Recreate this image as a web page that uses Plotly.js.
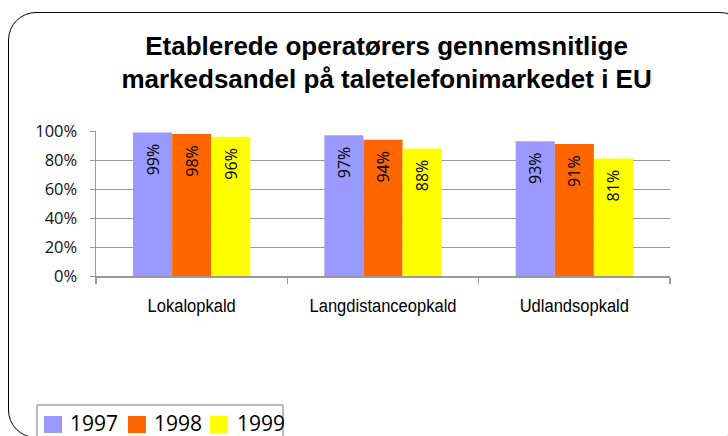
<!DOCTYPE html>
<html>
<head>
<meta charset="utf-8">
<script src="https://cdn.plot.ly/plotly-3.0.1.min.js"></script>
<style>
  html, body { margin: 0; padding: 0; background: #fff; overflow: hidden; }
  #wrap { position: relative; width: 728px; height: 436px; overflow: hidden; }
  #frame { position: absolute; left: 8px; top: 12px; width: 740px; height: 426px;
           border: 1.5px solid #000; border-radius: 28px; box-sizing: border-box; pointer-events: none; }
  #chart { position: absolute; left: 0; top: 0; width: 728px; height: 436px; }
</style>
</head>
<body>
<div id="wrap">
  <div id="chart"></div>
  <div id="frame"></div>
</div>
<script>
const categories = ["Lokalopkald", "Langdistanceopkald", "Udlandsopkald"];
const seriesNames = ["1997", "1998", "1999"];
const values1997 = [99, 97, 93];
const values1998 = [98, 94, 91];
const values1999 = [96, 88, 81];
const yTicks = [0, 20, 40, 60, 80, 100];
const titleText = "Etablerede operatørers gennemsnitlige<br>markedsandel på taletelefonimarkedet i EU";

const seriesValues = [values1997, values1998, values1999];
const colors = ["#9999FF", "#FF6600", "#FFFF00"];

// plot-area geometry (pixels) used to place the hand-drawn legend
const W = 728, H = 436;
const M = { l: 96, r: 58, t: 131, b: 160 };
const PW = W - M.l - M.r, PH = H - M.t - M.b;
const px = x => (x - M.l) / PW;
const py = y => (H - M.b - y) / PH;

const traces = seriesNames.map((name, i) => ({
  type: "bar",
  name: name,
  x: categories,
  y: seriesValues[i],
  marker: { color: colors[i], line: { width: 0 } },
  text: seriesValues[i].map(v => v + "%\u00A0\u00A0"),
  textposition: "inside",
  insidetextanchor: "end",
  textangle: -90,
  textfont: { family: "Open Sans, Noto Sans, sans-serif", size: 16, color: "#000" },
  hoverinfo: "none",
  showlegend: false
}));

// custom legend (box, swatches, labels) built from the series arrays
const legendBox = { x0: 37, y0: 405, x1: 283, y1: 446 };
const swatchX = [44, 128, 210];
const labelX = [68, 152, 235];
const shapes = [{
  type: "rect", xref: "paper", yref: "paper",
  x0: px(legendBox.x0), x1: px(legendBox.x1), y0: py(legendBox.y1), y1: py(legendBox.y0),
  line: { color: "#777", width: 1 }, fillcolor: "#fff", layer: "above"
}];
const annotations = [];
seriesNames.forEach((name, i) => {
  shapes.push({
    type: "rect", xref: "paper", yref: "paper",
    x0: px(swatchX[i]), x1: px(swatchX[i] + 18), y0: py(433), y1: py(416),
    line: { width: 0 }, fillcolor: colors[i], layer: "above"
  });
  annotations.push({
    xref: "paper", yref: "paper", x: px(labelX[i]), y: py(423),
    xanchor: "left", yanchor: "middle", showarrow: false, text: name,
    font: { family: "Open Sans, Noto Sans, sans-serif", size: 21, color: "#000" }
  });
});

const layout = {
  width: W, height: H,
  margin: M,
  paper_bgcolor: "rgba(0,0,0,0)",
  plot_bgcolor: "rgba(0,0,0,0)",
  barmode: "group",
  bargap: 0.387,
  bargroupgap: 0,
  title: {
    text: titleText,
    font: { family: "Liberation Sans, Arial, sans-serif", size: 26, color: "#000", weight: "bold" },
    x: 0.531, xref: "container", xanchor: "center",
    y: 0.875, yref: "container", yanchor: "top"
  },
  xaxis: {
    type: "category",
    showline: true, linecolor: "#999", linewidth: 1.5,
    ticks: "outside", tickson: "boundaries", ticklen: 6, tickcolor: "#999", tickwidth: 1.5,
    tickfont: { family: "Liberation Sans, Arial, sans-serif", size: 19, color: "#000" },
    ticklabelstandoff: 12,
    showgrid: false, zeroline: false
  },
  yaxis: {
    range: [0, 100],
    tickvals: yTicks,
    ticktext: yTicks.map(v => v + "%"),
    showline: true, linecolor: "#999", linewidth: 1.5,
    ticks: "outside", ticklen: 5, tickcolor: "#999",
    tickfont: { family: "Open Sans, Noto Sans, sans-serif", size: 16.5, color: "#111" },
    ticklabelstandoff: 9,
    showgrid: true, gridcolor: "#999", gridwidth: 1,
    zeroline: false
  },
  showlegend: false,
  shapes: shapes,
  annotations: annotations
};

Plotly.newPlot("chart", traces, layout, { displayModeBar: false, staticPlot: true }).then(() => {
  // narrow the category label glyphs (Arial Narrow look), about each label's own centre
  const GLYPH_SCALE = 0.87;
  document.querySelectorAll("#chart .xtick text").forEach(t => {
    const bb = t.getBBox();
    const cx = bb.x + bb.width / 2;
    const prev = t.getAttribute("transform") || "";
    t.setAttribute("transform",
      `${prev} translate(${cx},0) scale(${GLYPH_SCALE},1) translate(${-cx},0)`.trim());
  });
});
</script>
</body>
</html>
